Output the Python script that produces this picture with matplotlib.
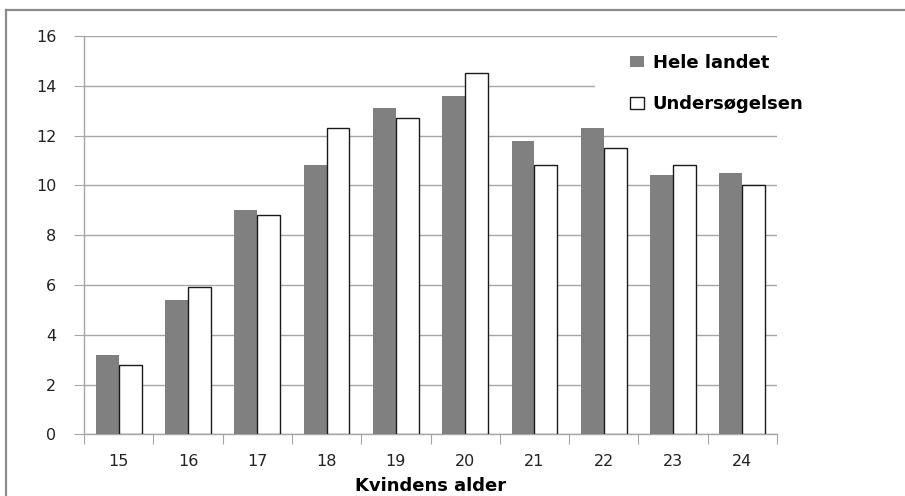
import numpy as np
import matplotlib
matplotlib.use("Agg")
import matplotlib.pyplot as plt
from matplotlib.patches import Rectangle
from matplotlib.lines import Line2D

# data
alder = ["15", "16", "17", "18", "19", "20", "21", "22", "23", "24"]
hele_landet = [3.2, 5.4, 9.0, 10.8, 13.1, 13.6, 11.8, 12.3, 10.4, 10.5]
undersoegelsen = [2.8, 5.9, 8.8, 12.3, 12.7, 14.5, 10.8, 11.5, 10.8, 10.0]
serie_navne = ["Hele landet", "Undersøgelsen"]
y_ticks = [0, 2, 4, 6, 8, 10, 12, 14, 16]

W, H = 905, 496
fig = plt.figure(figsize=(W / 100, H / 100), dpi=100)
ax = fig.add_axes([84 / W, (H - 434.3) / H, (777 - 84) / W, (434.3 - 36) / H])

x = np.arange(len(alder))
bw = 0.33
b1 = ax.bar(x - bw, hele_landet, width=bw, align="edge", color="#808080",
            edgecolor="none", label=serie_navne[0], zorder=3)
b2 = ax.bar(x, undersoegelsen, width=bw, align="edge", color="white",
            edgecolor="#1a1a1a", linewidth=1.0, label=serie_navne[1], zorder=3)

ax.set_xlim(-0.5, len(alder) - 0.5)
ax.set_ylim(0, 16)
ax.set_yticks(y_ticks)
ax.set_yticklabels([str(v) for v in y_ticks])
ax.yaxis.grid(True, color="#a6a6a6", linewidth=1.0, zorder=0)

# category boundaries as ticks, labels at centres
ax.set_xticks(np.arange(-0.5, len(alder), 1.0))
ax.set_xticklabels([])
ax.set_xticks(x, minor=True)
ax.set_xticklabels(alder, minor=True)
ax.tick_params(axis="x", which="major", length=7, color="#a6a6a6", direction="out")
ax.tick_params(axis="x", which="minor", length=0, pad=14, labelsize=11.5, labelcolor="#222222")
ax.tick_params(axis="y", length=7, color="#a6a6a6", direction="out", pad=13,
               labelsize=11.5, labelcolor="#222222")

for s in ["top", "right"]:
    ax.spines[s].set_visible(False)
for s in ["left", "bottom"]:
    ax.spines[s].set_color("#a6a6a6")
    ax.spines[s].set_linewidth(1.0)

ax.set_xlabel("Kvindens alder", fontweight="bold", fontsize=13, labelpad=6)

# white patch behind the legend (hides grid line at 14)
fig.add_artist(Rectangle((595 / W, (H - 127) / H), 300 / W, 82 / H,
                         transform=fig.transFigure, facecolor="white",
                         edgecolor="none", zorder=2))
leg = fig.legend([b1, b2], serie_navne, loc="upper left",
                 bbox_to_anchor=(630 / W, (H - 54) / H), frameon=False,
                 prop={"weight": "bold", "size": 13},
                 handlelength=0.8, handleheight=0.6, handletextpad=0.45,
                 labelspacing=1.3, borderpad=0, borderaxespad=0)
leg.set_zorder(5)

# outer frame of the screenshot
fig.add_artist(Line2D([6 / W, 6 / W], [0, (H - 10) / H], transform=fig.transFigure,
                      color="#8c8c8c", linewidth=1.6))
fig.add_artist(Line2D([6 / W, 1], [(H - 10) / H, (H - 10) / H], transform=fig.transFigure,
                      color="#8c8c8c", linewidth=1.6))

fig.savefig("out.png", dpi=100)
